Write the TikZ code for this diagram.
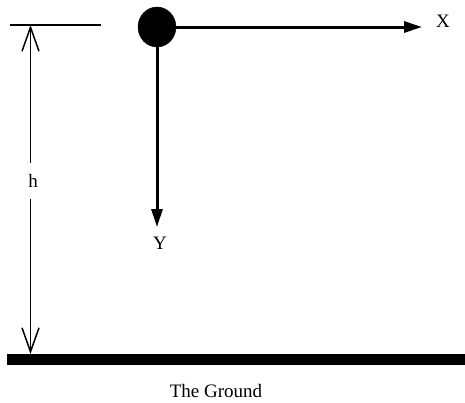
\documentclass[tikz,border=0pt]{standalone}
\usepackage{fontspec}
\setmainfont{Liberation Serif}
\usetikzlibrary{arrows.meta,shapes.geometric}
\begin{document}
\begin{tikzpicture}[x=1pt,y=-1pt,
  lbl/.style={font=\fontsize{19}{21}\selectfont, inner sep=0pt},
  axis/.style={line width=3pt, -{Triangle[length=18pt,width=11pt]}},
  dim/.style={line width=1.5pt, {Straight Barb[length=24pt,width=17pt]}-{Straight Barb[length=24pt,width=17pt]}}]
\useasboundingbox (0,0) rectangle (465,402);
% ball
\node[draw, fill=black, ellipse, minimum width=38pt, minimum height=40pt, inner sep=0pt] (ball) at (157,27) {};
% axes
\coordinate (xend) at (422,27);
\coordinate (yend) at (157,227);
\draw[axis] (ball.east) -- (xend);
\draw[axis] (ball.south) -- (yend);
\node[lbl] (X) at (443,21) {X};
\node[lbl] (Y) at (160,243) {Y};
% top reference line
\coordinate (tl) at (10,25);
\coordinate (tr) at (101,25);
\draw[line width=2pt] (tl) -- (tr);
% ground
\coordinate (gl) at (7,359.5);
\coordinate (gr) at (465,359.5);
\draw[line width=11pt] (gl) -- (gr);
\node[lbl] (ground) at (216,391) {The Ground};
% height dimension
\coordinate (htop) at (30.5,25);
\coordinate (hbot) at (30.5,354);
\draw[dim] (htop) -- (hbot);
\node[lbl, fill=white, minimum height=36pt, minimum width=12pt] (h) at (33,181) {h};
\end{tikzpicture}
\end{document}
